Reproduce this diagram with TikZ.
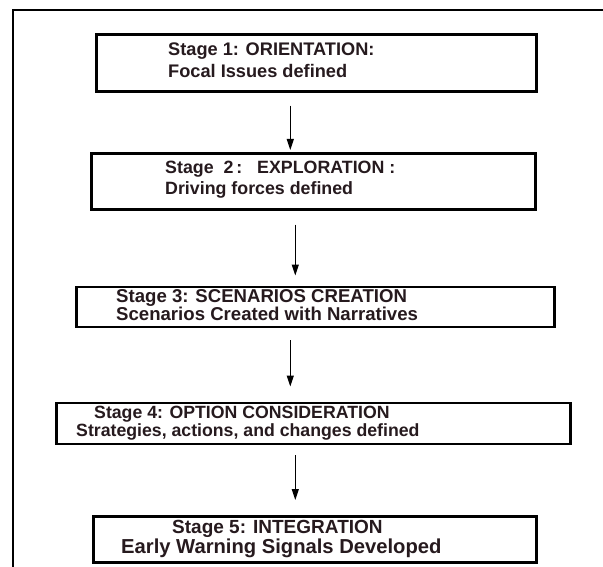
\documentclass[tikz,border=0pt]{standalone}
\usepackage{fontspec}
\setmainfont{Liberation Sans}
\usetikzlibrary{arrows.meta,calc}
\definecolor{ink}{RGB}{38,26,30}
\newcommand{\fsz}[1]{\bfseries\fontsize{#1}{#1}\selectfont}
\begin{document}
\begin{tikzpicture}[x=1pt,y=-1pt,
  stagebox/.style={draw=black, line width=2.6pt, rectangle, inner sep=0pt, anchor=north west},
  lbl/.style={anchor=base west, inner sep=0pt, text=ink},
  arr/.style={draw=black, line width=1.3pt, -{Triangle[length=11pt,width=7pt]}}]
\useasboundingbox (0,0) rectangle (603,567);
\fill[white] (0,0) rectangle (603,567);
\draw[line width=2.4pt] (13,567) -- (13,10) -- (603,10);
% boxes
\node[stagebox, minimum width=440pt, minimum height=57pt] (b1) at (95,33) {};
\node[stagebox, minimum width=444pt, minimum height=56pt] (b2) at (90,152) {};
\node[stagebox, minimum width=478pt, minimum height=40pt] (b3) at (75,285.5) {};
\node[stagebox, minimum width=514pt, minimum height=41pt] (b4) at (55,401.5) {};
\node[stagebox, minimum width=443pt, minimum height=46pt] (b5) at (92,515) {};
% texts
\node[lbl, font=\fsz{18.2}] (t1a) at (168,56) {Stage 1: ORIENTATION:};
\node[lbl, font=\fsz{18.2}] (t1b) at (168,78) {Focal Issues defined};
\node[lbl, font=\fsz{17.8}] (t2a) at (165,174) {Stage\ \ 2\,:\ \ \ EXPLORATION :};
\node[lbl, font=\fsz{17.8}] (t2b) at (165,195) {Driving forces defined};
\node[lbl, font=\fsz{18.6}] (t3a) at (116,302) {Stage 3: SCENARIOS CREATION};
\node[lbl, font=\fsz{18.6}] (t3b) at (116,320) {Scenarios Created with Narratives};
\node[lbl, font=\fsz{17.7}] (t4a) at (94,418) {Stage 4: OPTION CONSIDERATION};
\node[lbl, font=\fsz{17.7}] (t4b) at (76,436) {Strategies, actions, and changes defined};
\node[lbl, font=\fsz{19}] (t5a) at (172,533) {Stage 5: INTEGRATION};
\node[lbl, font=\fsz{20.2}] (t5b) at (121,553) {Early Warning Signals Developed};
% arrows
\draw[arr] ([xshift=-26pt,yshift=-13pt]b1.south) -- ([xshift=-23pt,yshift=2pt]b2.north);
\draw[arr] ([xshift=-18pt,yshift=-14pt]b2.south) -- ([xshift=-20pt,yshift=10pt]b3.north);
\draw[arr] ([xshift=-25pt,yshift=-12pt]b3.south) -- ([xshift=-23pt,yshift=15pt]b4.north);
\draw[arr] ([xshift=-18pt,yshift=-10pt]b4.south) -- ([xshift=-19.5pt,yshift=15pt]b5.north);
\end{tikzpicture}
\end{document}
